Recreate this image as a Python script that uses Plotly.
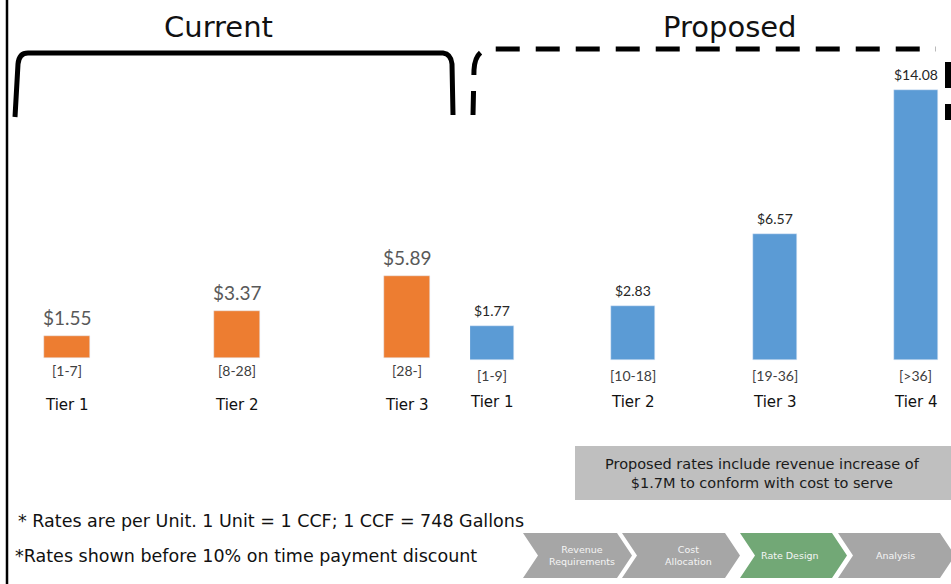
import plotly.graph_objects as go

# ---------------- data ----------------
current_tiers = ["Tier 1", "Tier 2", "Tier 3"]
current_ranges = ["[1-7]", "[8-28]", "[28-]"]
current_rates = [1.55, 3.37, 5.89]

proposed_tiers = ["Tier 1", "Tier 2", "Tier 3", "Tier 4"]
proposed_ranges = ["[1-9]", "[10-18]", "[19-36]", "[>36]"]
proposed_rates = [1.77, 2.83, 6.57, 14.08]

steps = ["Revenue<br>Requirements", "Cost<br>Allocation", "Rate Design", "Analysis"]
active_step = "Rate Design"

W, H = 951, 584
ORANGE = "#ED7D31"
BLUE = "#5B9BD5"
HEAD_FONT = "DejaVu Sans"
NUM_FONT = "Lato"

fig = go.Figure()

cx = list(range(len(current_rates)))
px_ = list(range(len(proposed_rates)))

fig.add_trace(go.Bar(x=cx, y=current_rates, marker_color=ORANGE, width=0.27,
                     xaxis="x", yaxis="y", showlegend=False, hoverinfo="skip"))
fig.add_trace(go.Bar(x=px_, y=proposed_rates, marker_color=BLUE, width=0.31,
                     xaxis="x2", yaxis="y2", showlegend=False, hoverinfo="skip"))

ann = []
# current labels
for i, (v, r, t) in enumerate(zip(current_rates, current_ranges, current_tiers)):
    ann.append(dict(x=i, y=v, xref="x", yref="y", text=f"${v:.2f}", showarrow=False,
                    yanchor="bottom", yshift=5, font=dict(family=NUM_FONT, size=19, color="#595959")))
    ann.append(dict(x=i, y=0, xref="x", yref="y", text=r, showarrow=False,
                    yanchor="middle", yshift=-12, font=dict(family=NUM_FONT, size=14, color="#404040")))
    ann.append(dict(x=i, y=0, xref="x", yref="y", text=t, showarrow=False,
                    yanchor="middle", yshift=-47, font=dict(family=HEAD_FONT, size=15, color="#111111")))
# proposed labels
for i, (v, r, t) in enumerate(zip(proposed_rates, proposed_ranges, proposed_tiers)):
    ann.append(dict(x=i, y=v, xref="x2", yref="y2", text=f"${v:.2f}", showarrow=False,
                    yanchor="bottom", yshift=5, font=dict(family=NUM_FONT, size=14, color="#262626")))
    ann.append(dict(x=i, y=0, xref="x2", yref="y2", text=r, showarrow=False,
                    yanchor="middle", yshift=-15, font=dict(family=NUM_FONT, size=14, color="#404040")))
    ann.append(dict(x=i, y=0, xref="x2", yref="y2", text=t, showarrow=False,
                    yanchor="middle", yshift=-42, font=dict(family=HEAD_FONT, size=15, color="#111111")))

# titles
ann.append(dict(x=218, y=27, xref="x3", yref="y3", text="Current", showarrow=False,
                font=dict(family=HEAD_FONT, size=29, color="#111111")))
ann.append(dict(x=730, y=27, xref="x3", yref="y3", text="Proposed", showarrow=False,
                font=dict(family=HEAD_FONT, size=29, color="#111111")))
# box text
ann.append(dict(x=762, y=473, xref="x3", yref="y3",
                text="Proposed rates include revenue increase of<br>$1.7M to conform with cost to serve",
                showarrow=False, font=dict(family=HEAD_FONT, size=14.5, color="#1a1a1a")))
# footnotes
ann.append(dict(x=16, y=521, xref="x3", yref="y3", xanchor="left",
                text="* Rates are per Unit. 1 Unit = 1 CCF; 1 CCF = 748 Gallons",
                showarrow=False, font=dict(family=HEAD_FONT, size=17.5, color="#111111")))
ann.append(dict(x=13, y=556, xref="x3", yref="y3", xanchor="left",
                text="*Rates shown before 10% on time payment discount",
                showarrow=False, font=dict(family=HEAD_FONT, size=17.5, color="#111111")))

shapes = []
# left slide border
shapes.append(dict(type="line", xref="x3", yref="y3", x0=7, x1=7, y0=0, y1=584,
                   line=dict(color="black", width=2.5)))
# current bracket
shapes.append(dict(type="path", xref="x3", yref="y3",
                   path="M 15 117 L 18 64 Q 19 53 28 53 L 443 53 Q 451 54 452 64 L 453 115",
                   line=dict(color="black", width=5)))
# proposed bracket (dashed): left + top, then right side
shapes.append(dict(type="path", xref="x3", yref="y3",
                   path="M 473 115 L 474 70 Q 475 50 490 49 L 936 49",
                   line=dict(color="black", width=5, dash="24px,16px")))
shapes.append(dict(type="line", xref="x3", yref="y3", x0=948, x1=948, y0=62, y1=120,
                   line=dict(color="black", width=6, dash="26px,16px")))
# grey box
shapes.append(dict(type="rect", xref="x3", yref="y3", x0=575, x1=951, y0=446, y1=500,
                   fillcolor="#BFBFBF", line=dict(width=0), layer="below"))
# chevrons
chev_x0 = [523, 622, 740, 838]
chev_tip = [632, 740, 847, 955]
chev_cx = [582, 688, 790, 895]
y0c, y1c = 533, 578
ym = (y0c + y1c) / 2
d = 15
for s, a, b, c in zip(steps, chev_x0, chev_tip, chev_cx):
    col = "#72A876" if s == active_step else "#A6A6A6"
    shapes.append(dict(type="path", xref="x3", yref="y3",
                       path=f"M {a} {y0c} L {b-d} {y0c} L {b} {ym} L {b-d} {y1c} L {a} {y1c} L {a+d} {ym} Z",
                       fillcolor=col, line=dict(width=0)))
    ann.append(dict(x=c, y=ym, xref="x3", yref="y3", text=s, showarrow=False,
                    font=dict(family=HEAD_FONT, size=9.5, color="#F5F5F5")))

# axes geometry
x1_left, x1_right = 0, 470
x2_left, x2_right = 470, W
sp1, sp2 = 170.0, 141.3
c1, c2 = 67, 492
base1, k1 = 358, 14.0
base2, k2 = 360, 19.2

hid = dict(visible=False, showgrid=False, zeroline=False, fixedrange=True)
fig.update_layout(
    width=W, height=H, margin=dict(l=0, r=0, t=0, b=0),
    paper_bgcolor="white", plot_bgcolor="rgba(0,0,0,0)",
    xaxis=dict(domain=[x1_left / W, x1_right / W],
               range=[(x1_left - c1) / sp1, (x1_right - c1) / sp1], anchor="y", **hid),
    yaxis=dict(domain=[0, 1], range=[(base1 - H) / k1, base1 / k1], anchor="x", **hid),
    xaxis2=dict(domain=[x2_left / W, x2_right / W],
                range=[(x2_left - c2) / sp2, (x2_right - c2) / sp2], anchor="y2", **hid),
    yaxis2=dict(domain=[0, 1], range=[(base2 - H) / k2, base2 / k2], anchor="x2", **hid),
    xaxis3=dict(domain=[0, 1], range=[0, W], anchor="y3", **hid),
    yaxis3=dict(domain=[0, 1], range=[H, 0], anchor="x3", **hid),
    annotations=ann, shapes=shapes, bargap=0,
)
# invisible trace so the pixel-frame axes exist
fig.add_trace(go.Scatter(x=[0], y=[0], xaxis="x3", yaxis="y3", mode="markers",
                         marker=dict(opacity=0), showlegend=False, hoverinfo="skip"))

fig.write_html("out.html", config={"displayModeBar": False},
               post_script="document.body.style.margin='0';document.body.style.overflow='hidden';")
